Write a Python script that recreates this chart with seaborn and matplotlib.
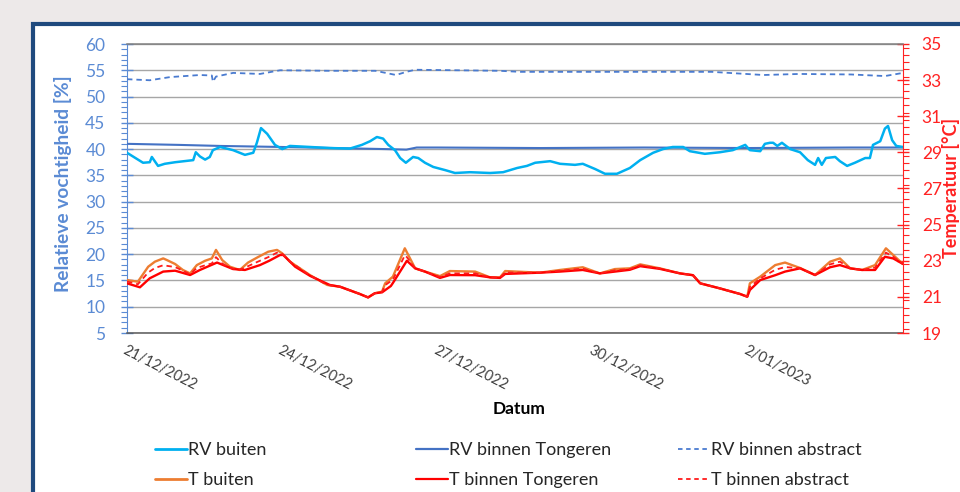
import numpy as np
import pandas as pd
import matplotlib
matplotlib.use("Agg")
import matplotlib.pyplot as plt
import matplotlib.dates as mdates
from matplotlib.lines import Line2D
from matplotlib.patches import Rectangle
import seaborn as sns

# ---------------- data (days after 21/12/2022 00:00) ----------------
start_date = "2022-12-21"
end_date = "2023-01-05"

rv_buiten_days = [0, 0.31, 0.44, 0.48, 0.60, 0.73, 0.93, 1.28, 1.33, 1.41, 1.51, 1.60, 1.66, 1.80,
                  2.05, 2.28, 2.44, 2.51, 2.59, 2.71, 2.86, 3.00, 3.15, 3.54, 3.92, 4.31, 4.54,
                  4.70, 4.83, 4.95, 5.05, 5.18, 5.28, 5.39, 5.53, 5.63, 5.76, 5.92, 6.15, 6.34,
                  6.63, 7.02, 7.27, 7.54, 7.73, 7.89, 8.18, 8.37, 8.66, 8.81, 9.05, 9.24, 9.47,
                  9.72, 9.92, 10.17, 10.36, 10.55, 10.75, 10.88, 11.17, 11.46, 11.71, 11.95, 12.04,
                  12.24, 12.33, 12.43, 12.49, 12.57, 12.66, 12.82, 13.01, 13.16, 13.30, 13.36,
                  13.43, 13.51, 13.69, 13.78, 13.92, 14.07, 14.27, 14.36, 14.42, 14.56, 14.65,
                  14.71, 14.79, 14.87, 15.0]
rv_buiten = [39.3, 37.4, 37.5, 38.5, 36.8, 37.2, 37.5, 37.9, 39.4, 38.6, 38.0, 38.5, 39.8, 40.4,
             39.8, 38.9, 39.3, 41.2, 44.0, 42.9, 40.8, 40.0, 40.6, 40.4, 40.2, 40.1, 40.8,
             41.5, 42.3, 42.0, 40.8, 39.8, 38.3, 37.4, 38.5, 38.3, 37.4, 36.6, 36.0, 35.45,
             35.6, 35.45, 35.6, 36.4, 36.8, 37.4, 37.7, 37.2, 37.0, 37.2, 36.2, 35.3, 35.3,
             36.4, 37.9, 39.3, 40.0, 40.4, 40.4, 39.6, 39.1, 39.4, 39.8, 40.8, 39.8,
             39.6, 41.0, 41.2, 41.2, 40.6, 41.2, 40.0, 39.4, 37.9, 37.0, 38.3,
             37.0, 38.3, 38.5, 37.7, 36.8, 37.4, 38.3, 38.3, 40.8, 41.5, 43.9,
             44.4, 41.7, 40.6, 40.4]

rv_tongeren_days = [0, 1.0, 1.8, 3.0, 4.0, 5.0, 5.4, 5.6, 6.0, 8.0, 10.0, 12.0, 14.0, 15.0]
rv_tongeren = [41.0, 40.8, 40.6, 40.4, 40.2, 40.0, 39.9, 40.3, 40.3, 40.2, 40.3, 40.2, 40.3, 40.3]

rv_abstract_days = [0, 0.44, 0.83, 1.41, 1.64, 1.66, 1.72, 2.05, 2.57, 2.96, 3.92, 4.8, 5.0, 5.2,
                    5.4, 5.57, 7.2, 7.6, 9.72, 11.3, 12.3, 13.0, 14.0, 14.65, 15.0]
rv_abstract = [53.3, 53.1, 53.7, 54.1, 54.0, 52.8, 53.8, 54.5, 54.3, 55.0, 54.9, 54.9, 54.5, 54.1,
               54.7, 55.1, 54.9, 54.7, 54.7, 54.7, 54.1, 54.3, 54.2, 53.9, 54.5]

t_buiten_days = [0, 0.21, 0.41, 0.54, 0.70, 0.77, 0.93, 1.08, 1.22, 1.35, 1.51, 1.64, 1.72, 1.84,
                 1.99, 2.18, 2.34, 2.53, 2.73, 2.90, 3.00, 3.15, 3.54, 3.87, 4.12, 4.50, 4.66,
                 4.79, 4.93, 4.99, 5.14, 5.37, 5.57, 5.76, 6.05, 6.24, 6.73, 7.02, 7.21, 7.31,
                 7.98, 8.37, 8.81, 9.14, 9.43, 9.72, 9.92, 10.30, 10.69, 10.94, 11.08, 11.46,
                 11.85, 11.99, 12.04, 12.24, 12.53, 12.72, 13.01, 13.30, 13.59, 13.78, 13.98,
                 14.21, 14.46, 14.67, 14.81, 15.0]
t_buiten = [21.93, 21.84, 22.67, 22.95, 23.13, 23.04, 22.82, 22.49, 22.30, 22.76, 23.0, 23.13, 23.6, 23.04,
            22.67, 22.49, 22.9, 23.2, 23.5, 23.6, 23.41, 22.95, 22.2, 21.66, 21.56, 21.16, 20.97,
            21.2, 21.29, 21.75, 22.12, 23.69, 22.58, 22.4, 22.15, 22.43, 22.4, 22.08, 22.08, 22.43,
            22.34, 22.49, 22.64, 22.3, 22.54, 22.58, 22.8, 22.58, 22.3, 22.2, 21.75, 21.47,
            21.16, 21.01, 21.75, 22.12, 22.76, 22.9, 22.6, 22.21, 22.95, 23.13, 22.58,
            22.49, 22.76, 23.69, 23.32, 22.82]

t_tongeren_days = [0, 0.25, 0.44, 0.70, 0.93, 1.22, 1.41, 1.74, 2.05, 2.28, 2.57, 2.75, 2.96, 3.02,
                   3.25, 3.54, 3.92, 4.12, 4.50, 4.66, 4.79, 4.93, 5.10, 5.14, 5.41, 5.57, 5.76,
                   6.05, 6.24, 6.73, 7.02, 7.21, 7.31, 7.98, 8.37, 8.81, 9.14, 9.43, 9.72, 9.92,
                   10.30, 10.69, 10.94, 11.08, 11.46, 11.85, 11.99, 12.04, 12.24, 12.53, 12.72,
                   13.01, 13.30, 13.59, 13.78, 13.98, 14.21, 14.46, 14.65, 14.81, 15.0]
t_tongeren = [21.75, 21.53, 22.03, 22.4, 22.45, 22.21, 22.49, 22.9, 22.54, 22.49, 22.76, 23.0, 23.32, 23.32,
              22.67, 22.16, 21.66, 21.56, 21.16, 20.97, 21.2, 21.25, 21.6, 21.77, 23.0, 22.58, 22.4,
              22.05, 22.21, 22.2, 22.08, 22.05, 22.27, 22.34, 22.4, 22.49, 22.3, 22.4, 22.5, 22.7,
              22.55, 22.3, 22.2, 21.75, 21.47, 21.16, 21.01, 21.38, 21.93, 22.2, 22.4,
              22.58, 22.21, 22.64, 22.76, 22.58, 22.49, 22.49, 23.22, 23.13, 22.82]

t_abstract_days = [0, 0.21, 0.41, 0.54, 0.70, 0.93, 1.08, 1.22, 1.35, 1.51, 1.64, 1.72, 1.84, 1.99,
                   2.18, 2.34, 2.53, 2.73, 2.90, 3.00, 3.15, 3.54, 3.87, 4.12, 4.50, 4.66, 4.79,
                   4.93, 4.99, 5.14, 5.37, 5.41, 5.57, 5.76, 6.05, 6.24, 6.73, 7.02, 7.21, 7.31,
                   7.98, 8.37, 8.81, 9.14, 9.43, 9.72, 9.92, 10.30, 10.69, 10.94, 11.08, 11.46,
                   11.85, 11.99, 12.04, 12.24, 12.53, 12.72, 13.01, 13.30, 13.59, 13.78, 13.98,
                   14.21, 14.46, 14.67, 14.81, 15.0]
t_abstract = [21.85, 21.7, 22.35, 22.6, 22.75, 22.65, 22.45, 22.25, 22.6, 22.75, 22.85, 23.2, 22.85, 22.6,
              22.5, 22.7, 22.95, 23.2, 23.45, 23.38, 22.95, 22.18, 21.66, 21.56, 21.16, 20.97, 21.2,
              21.27, 21.65, 21.95, 23.3, 23.2, 22.58, 22.4, 22.1, 22.3, 22.3, 22.08, 22.06, 22.35,
              22.34, 22.45, 22.56, 22.3, 22.47, 22.54, 22.75, 22.57, 22.3, 22.2, 21.75, 21.47,
              21.16, 21.01, 21.55, 22.02, 22.5, 22.65, 22.59, 22.21, 22.8, 22.95, 22.58,
              22.49, 22.62, 23.45, 23.22, 22.82]

series_labels = ["RV buiten", "RV binnen Tongeren", "RV binnen abstract",
                 "T buiten", "T binnen Tongeren", "T binnen abstract"]

tick_dates = ["2022-12-21", "2022-12-24", "2022-12-27", "2022-12-30", "2023-01-02"]
tick_labels = ["21/12/2022", "24/12/2022", "27/12/2022", "30/12/2022", "2/01/2023"]
left_ticks = [5, 10, 15, 20, 25, 30, 35, 40, 45, 50, 55, 60]
right_ticks = [19, 21, 23, 25, 27, 29, 31, 33, 35]

# ---------------- styling ----------------
sns.set_style("white")
plt.rcParams["font.family"] = ["Lato", "DejaVu Sans"]

C_RVB = "#00B0F0"
C_RVT = "#4472C4"
C_RVA = "#4A7BD0"
C_TB = "#ED7D31"
C_TT = "#FF0000"
C_TA = "#FF1A1A"
C_LEFT = "#5B8BD4"
C_RIGHT = "#FF2222"

W, H = 960, 492
fig = plt.figure(figsize=(9.6, 4.92), dpi=100)
fig.patch.set_facecolor("#EDE9E9")

# white panel with navy border
panel = Rectangle((33 / W, -0.2), 1.2, 1 - 24 / H + 0.2, transform=fig.transFigure,
                  facecolor="white", edgecolor="#1F4A7E", linewidth=3.0, zorder=-10)
fig.patches.append(panel)

ax = fig.add_axes([127 / W, 1 - 333 / H, (903 - 127) / W, (333 - 44) / H])
ax.set_facecolor("none")
ax2 = ax.twinx()

t0 = pd.Timestamp(start_date)


def to_dates(days):
    return t0 + pd.to_timedelta(np.asarray(days), unit="D")


sns.lineplot(x=to_dates(rv_tongeren_days), y=rv_tongeren, ax=ax, color=C_RVT, linewidth=1.5, zorder=3)
sns.lineplot(x=to_dates(rv_abstract_days), y=rv_abstract, ax=ax, color=C_RVA, linewidth=1.3,
             linestyle=(0, (3, 2.2)), zorder=3)
sns.lineplot(x=to_dates(rv_buiten_days), y=rv_buiten, ax=ax, color=C_RVB, linewidth=1.8, zorder=4)

sns.lineplot(x=to_dates(t_buiten_days), y=t_buiten, ax=ax2, color=C_TB, linewidth=1.7, zorder=3)
sns.lineplot(x=to_dates(t_tongeren_days), y=t_tongeren, ax=ax2, color=C_TT, linewidth=1.7, zorder=4)
sns.lineplot(x=to_dates(t_abstract_days), y=t_abstract, ax=ax2, color=C_TA, linewidth=1.3,
             linestyle=(0, (3, 2.2)), zorder=5)

# axes limits & ticks
xmin, xmax = pd.Timestamp(start_date), pd.Timestamp(end_date)
ax.set_xlim(xmin, xmax)
ax.set_ylim(5, 60)
ax2.set_ylim(19, 35)

ax.set_xticks(mdates.date2num(pd.to_datetime(tick_dates)))
ax.set_xticklabels(tick_labels, rotation=-27, ha="left", va="top", rotation_mode="anchor",
                   fontsize=10.5, color="#404040")
ax.xaxis.set_minor_locator(mdates.DayLocator())

ax.set_yticks(left_ticks)
ax.set_yticklabels([str(v) for v in left_ticks], fontsize=12.5, color=C_LEFT)
ax.yaxis.set_minor_locator(matplotlib.ticker.MultipleLocator(1))
ax2.set_yticks(right_ticks)
ax2.set_yticklabels([str(v) for v in right_ticks], fontsize=12.5, color=C_RIGHT)
ax2.yaxis.set_minor_locator(matplotlib.ticker.MultipleLocator(0.4))

ax.tick_params(axis="x", which="major", direction="inout", length=7, width=1, color="#595959", pad=4)
ax.tick_params(axis="x", which="minor", direction="out", length=3.5, width=1, color="#595959")
ax.tick_params(axis="y", which="major", direction="inout", length=9, width=1, color=C_LEFT, pad=11)
ax.tick_params(axis="y", which="minor", direction="out", length=4, width=0.8, color=C_LEFT)
ax2.tick_params(axis="y", which="major", direction="inout", length=9, width=1, color=C_RIGHT, pad=9)
ax2.tick_params(axis="y", which="minor", direction="out", length=4, width=0.8, color=C_RIGHT)

ax.grid(axis="y", which="major", color="#A6A6A6", linewidth=1.0)
ax.grid(axis="x", visible=False)
ax2.grid(False)
ax.set_axisbelow(True)

for s in ("top", "right"):
    ax.spines[s].set_visible(False)
ax.spines["left"].set_color(C_LEFT)
ax.spines["bottom"].set_color("#595959")
ax.spines["bottom"].set_linewidth(1.1)
ax2.spines["right"].set_color(C_RIGHT)
ax2.spines["top"].set_visible(True)
ax2.spines["top"].set_color("#7F7F7F")
ax2.spines["top"].set_linewidth(1.1)
ax2.spines["left"].set_visible(False)
ax2.spines["bottom"].set_visible(False)

ax.set_xlabel("")
ax.set_ylabel("")
ax2.set_ylabel("")

fig.text(63 / W, 1 - 184 / H, "Relatieve vochtigheid [%]", rotation=90, ha="center", va="center",
         fontsize=13.8, fontweight="bold", color=C_LEFT)
fig.text(942 / W, 1 - 188 / H, "Temperatuur [°C]", rotation=90, ha="left", va="center",
         fontsize=13, fontweight="bold", color=C_RIGHT)
fig.text(519 / W, 1 - 409 / H, "Datum", ha="center", va="center", fontsize=12.5, fontweight="bold",
         color="black")

# legends: three columns of two entries
styles = [
    (C_RVB, "-", 2.0), (C_RVT, "-", 1.6), (C_RVA, (0, (2.5, 2)), 1.3),
    (C_TB, "-", 2.0), (C_TT, "-", 1.6), (C_TA, (0, (2.5, 2)), 1.3),
]
handles = [Line2D([0], [0], color=c, linestyle=ls, linewidth=lw) for c, ls, lw in styles]
col_x = [155, 416, 678]
for i, x in enumerate(col_x):
    leg = fig.legend([handles[i], handles[i + 3]], [series_labels[i], series_labels[i + 3]],
                     loc="center left", bbox_to_anchor=(x / W, 1 - 465 / H), frameon=False,
                     fontsize=13, handlelength=1.75, handletextpad=0.1, labelspacing=0.78,
                     borderpad=0, borderaxespad=0)
    for t in leg.get_texts():
        t.set_color("#262626")

fig.savefig("out.png", dpi=100, facecolor=fig.get_facecolor())
